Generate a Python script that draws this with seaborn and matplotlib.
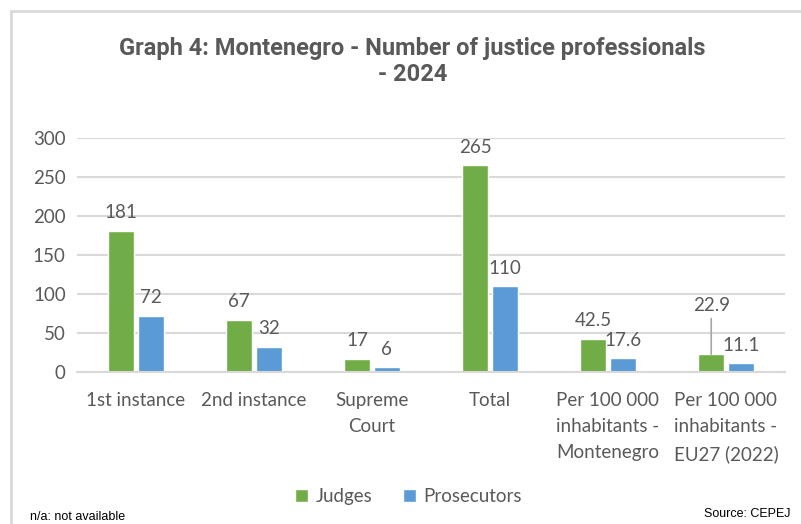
import matplotlib.pyplot as plt
import pandas as pd
import seaborn as sns
from matplotlib.patches import Rectangle

# Data
categories = ['1st instance', '2nd instance', 'Supreme\nCourt', 'Total',
              'Per 100 000\ninhabitants -\nMontenegro',
              'Per 100 000\ninhabitants -\nEU27 (2022)']
judges = [181, 67, 17, 265, 42.5, 22.9]
prosecutors = [72, 32, 6, 110, 17.6, 11.1]
judge_labels = ['181', '67', '17', '265', '42.5', '22.9']
prosecutor_labels = ['72', '32', '6', '110', '17.6', '11.1']
y_ticks = [0, 50, 100, 150, 200, 250, 300]

df = pd.DataFrame({
    'category': categories * 2,
    'value': judges + prosecutors,
    'series': ['Judges'] * len(categories) + ['Prosecutors'] * len(categories),
})

sns.set_style('white')
plt.rcParams['font.family'] = ['Lato', 'DejaVu Sans']

grey = '#595959'
fig = plt.figure(figsize=(8.01, 5.24), dpi=100)
ax = fig.add_axes([0.096, 0.29, 0.884, 0.4466])

sns.barplot(data=df, x='category', y='value', hue='series', order=categories,
            palette={'Judges': '#70AD47', 'Prosecutors': '#5B9BD5'},
            saturation=1, width=0.5, gap=0.12, ax=ax, legend=True)

ax.set_ylim(0, 300)
ax.set_yticks(y_ticks)
ax.set_xlim(-0.5, len(categories) - 0.5)
ax.yaxis.grid(True, color='#D9D9D9', linewidth=1.5)
ax.set_axisbelow(True)
for s in ['top', 'right', 'left']:
    ax.spines[s].set_visible(False)
ax.spines['bottom'].set_color('#D9D9D9')
ax.spines['bottom'].set_linewidth(1.5)
ax.set_xlabel('')
ax.set_ylabel('')
ax.tick_params(axis='y', length=0, pad=8, labelsize=13.5, labelcolor=grey)
ax.tick_params(axis='x', length=0, pad=14.5, labelsize=13.5, labelcolor=grey)
for t in ax.get_xticklabels():
    t.set_linespacing(1.65)

# value labels
for cont, labels in zip(ax.containers, [judge_labels, prosecutor_labels]):
    ax.bar_label(cont, labels=labels, padding=7, fontsize=13.5, color=grey)

# the EU27 judges label sits higher with a leader line
bar = ax.containers[0][5]
for t in ax.texts[:]:
    if t.get_text() == '22.9':
        t.remove()
bx = bar.get_x() + bar.get_width() / 2
ax.annotate('22.9', xy=(bx, bar.get_height()), xytext=(0, 29),
            textcoords='offset points', ha='center', va='bottom',
            fontsize=13.5, color=grey,
            arrowprops=dict(arrowstyle='-', color='#A6A6A6', lw=1.2,
                            shrinkA=1, shrinkB=0))

handles, labs = ax.get_legend_handles_labels()
ax.legend_.remove()
fig.legend(handles, labs, loc='center', bbox_to_anchor=(0.51, 0.053),
           ncol=2, frameon=False, fontsize=13.5, labelcolor=grey,
           handlelength=0.7, handleheight=0.7, handletextpad=0.4,
           columnspacing=1.6)

fig.suptitle('Graph 4: Montenegro - Number of justice professionals\n- 2024',
             x=0.515, y=0.93, fontsize=17, fontweight='bold', color=grey,
             family=['Roboto', 'DejaVu Sans'], linespacing=1.2)

# chart frame
fig.patches.append(Rectangle((11 / 801, -0.1), 1.1, 1 - 11 / 524 + 0.1,
                             transform=fig.transFigure, fill=False,
                             edgecolor='#D9D9D9', linewidth=2))

fig.text(30 / 801, 1 - 517 / 524, 'n/a: not available', fontsize=9,
         color='black', family=['Liberation Sans'], va='center')
fig.text(790 / 801, 1 - 514 / 524, 'Source: CEPEJ', fontsize=9,
         color='black', family=['Liberation Sans'], ha='right', va='center')

fig.savefig('out.png', dpi=100)
